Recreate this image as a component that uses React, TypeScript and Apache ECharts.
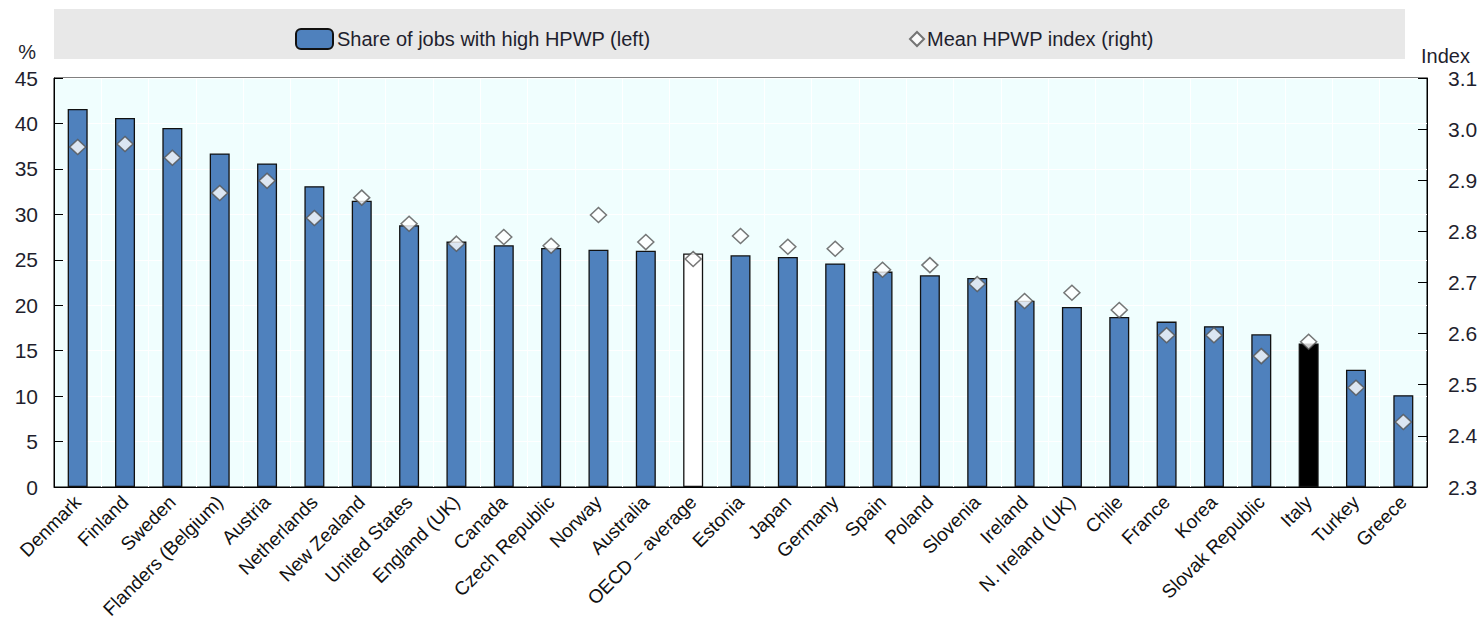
import React, { useEffect, useRef } from "react";
import * as echarts from "echarts";

const categories = [
  "Denmark", "Finland", "Sweden", "Flanders (Belgium)", "Austria", "Netherlands",
  "New Zealand", "United States", "England (UK)", "Canada", "Czech Republic", "Norway",
  "Australia", "OECD – average", "Estonia", "Japan", "Germany", "Spain", "Poland",
  "Slovenia", "Ireland", "N. Ireland (UK)", "Chile", "France", "Korea",
  "Slovak Republic", "Italy", "Turkey", "Greece",
];

const shareHighHPWP = [
  41.6, 40.6, 39.5, 36.7, 35.6, 33.1, 31.5, 28.8, 27.0, 26.6, 26.3, 26.1, 26.0, 25.7,
  25.5, 25.3, 24.6, 23.7, 23.3, 23.0, 20.5, 19.8, 18.7, 18.2, 17.7, 16.8, 15.8, 12.9, 10.1,
];

const meanHPWPIndex = [
  2.965, 2.971, 2.944, 2.875, 2.899, 2.826, 2.866, 2.815, 2.776, 2.789, 2.772, 2.832,
  2.779, 2.746, 2.791, 2.770, 2.766, 2.725, 2.734, 2.697, 2.664, 2.680, 2.646, 2.597,
  2.597, 2.556, 2.584, 2.494, 2.427,
];

const seriesNames = ["Share of jobs with high HPWP (left)", "Mean HPWP index (right)"];
const leftAxis = { min: 0, max: 45, interval: 5, name: "%" };
const rightAxis = { min: 2.3, max: 3.1, interval: 0.1, name: "Index" };

const FONT = "'Liberation Sans', Arial, sans-serif";
const BLUE = "#4F81BD";
const TEXT = "#1f1f2e";

export default function App() {
  const ref = useRef<HTMLDivElement>(null);
  useEffect(() => {
    document.body.style.margin = "0";
    const chart = echarts.init(ref.current!, null, { renderer: "svg" });
    const barData = shareHighHPWP.map((v, i) => {
      const c = categories[i];
      let color = BLUE;
      if (c.startsWith("OECD")) color = "#ffffff";
      if (c === "Italy") color = "#000000";
      return { value: v, itemStyle: { color } };
    });
    chart.setOption({
      animation: false,
      textStyle: { fontFamily: FONT },
      grid: {
        left: 54,
        right: 54,
        top: 78,
        bottom: 140,
        show: true,
        backgroundColor: "#F0FEFE",
        borderColor: "#000",
        borderWidth: 1,
      },
      graphic: [
        {
          type: "rect",
          z: -10,
          shape: { x: 54, y: 9, width: 1351, height: 50 },
          style: { fill: "#E8E8E8" },
        },
        {
          type: "text",
          x: 36,
          y: 62,
          style: { text: leftAxis.name, font: `20px ${FONT}`, fill: TEXT, textAlign: "right", textVerticalAlign: "bottom" },
        },
        {
          type: "text",
          x: 1421,
          y: 66,
          style: { text: rightAxis.name, font: `20px ${FONT}`, fill: TEXT, textAlign: "left", textVerticalAlign: "bottom" },
        },
      ],
      legend: [
        {
          data: [seriesNames[0]],
          left: 290,
          top: 23,
          itemWidth: 37,
          itemHeight: 20,
          itemGap: 4,
          textStyle: { fontSize: 20, fontFamily: FONT, color: TEXT, padding: [0, 0, 0, -1] },
        },
        {
          data: [seriesNames[1]],
          left: 904,
          top: 24,
          itemWidth: 14,
          itemHeight: 14,
          textStyle: { fontSize: 20, fontFamily: FONT, color: TEXT, padding: [0, 0, 0, -2] },
        },
      ],
      xAxis: {
        type: "category",
        data: categories,
        boundaryGap: true,
        axisLine: { lineStyle: { color: "#000", width: 1 } },
        axisTick: { inside: true, length: 6, alignWithLabel: false, lineStyle: { color: "#000" } },
        axisLabel: { rotate: 45, interval: 0, fontSize: 19, color: "#111", margin: 12, fontFamily: FONT },
        splitLine: { show: true, interval: 0, lineStyle: { color: "#ffffff", width: 1 } },
      },
      yAxis: [
        {
          type: "value",
          min: leftAxis.min,
          max: leftAxis.max,
          interval: leftAxis.interval,
          position: "left",
          axisLine: { show: true, lineStyle: { color: "#000" } },
          axisTick: { show: true, inside: true, length: 9, lineStyle: { color: "#000" } },
          axisLabel: { fontSize: 21, color: TEXT, margin: 16, fontFamily: FONT },
          splitLine: { show: true, lineStyle: { color: "#ffffff", width: 1 } },
        },
        {
          type: "value",
          min: rightAxis.min,
          max: rightAxis.max,
          interval: rightAxis.interval,
          position: "right",
          axisLine: { show: true, lineStyle: { color: "#000" } },
          axisTick: { show: true, inside: true, length: 9, lineStyle: { color: "#000" } },
          axisLabel: {
            fontSize: 21,
            color: TEXT,
            margin: 21,
            fontFamily: FONT,
            formatter: (v: number) => v.toFixed(1),
          },
          splitLine: { show: false },
        },
      ],
      series: [
        {
          name: seriesNames[0],
          type: "bar",
          yAxisIndex: 0,
          barWidth: 20,
          data: barData,
          itemStyle: { color: BLUE, borderColor: "#111", borderWidth: 1.3 },
        },
        {
          name: seriesNames[1],
          type: "scatter",
          yAxisIndex: 1,
          symbol: "diamond",
          symbolSize: [16, 15],
          data: meanHPWPIndex,
          itemStyle: { color: "#ffffff", borderColor: "#555", borderWidth: 1.5 },
          z: 5,
        },
      ],
    });
    return () => chart.dispose();
  }, []);
  return <div ref={ref} style={{ width: 1481, height: 627 }} />;
}
